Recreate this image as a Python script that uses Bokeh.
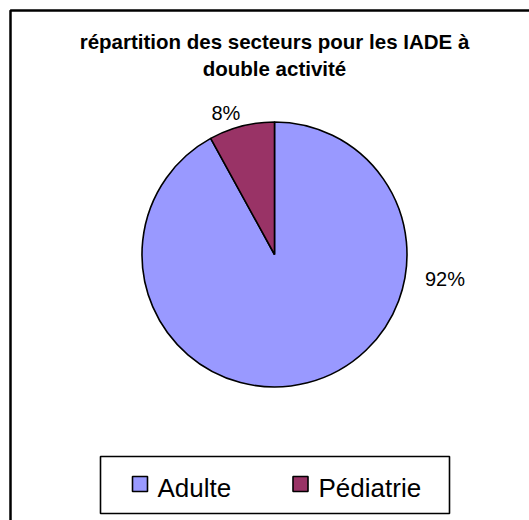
import math
from bokeh.plotting import figure
from bokeh.models import Range1d
from bokeh.core.properties import value
from bokeh.embed import file_html
from bokeh.resources import INLINE

# ---- data ----
title_lines = ["répartition des secteurs pour les IADE à", "double activité"]
categories = ["Adulte", "Pédiatrie"]
shares = [0.92, 0.08]
pct_labels = ["92%", "8%"]
colors = ["#9999FF", "#993366"]

FONT = "Liberation Sans"
W, H = 529, 520
# pie centre at picture (274, 254)
cx, cy = 274, 254
DY = 8  # baseline compensation

p = figure(width=W, height=H, output_backend="svg", toolbar_location=None,
           x_range=Range1d(-cx, W - cx), y_range=Range1d(-(H - cy), cy),
           min_border=0, outline_line_color=None)
p.axis.visible = False
p.grid.visible = False
p.background_fill_color = "white"
p.border_fill_color = "white"

R = 132.5

# wedges, clockwise from 12 o'clock
starts, ends = [], []
acc = 0.0
for s in shares:
    starts.append(math.pi / 2 - acc * 2 * math.pi)
    acc += s
    ends.append(math.pi / 2 - acc * 2 * math.pi)
p.wedge(x=[0, 0], y=[0, 0], radius=R, start_angle=starts, end_angle=ends,
        direction="clock", fill_color=colors, line_color="black", line_width=1.6)

# percentage labels
p.text(x=[150.5, -63], y=[-32 + DY, 134 + DY], text=pct_labels,
       text_font=value(FONT), text_font_size="20px", text_color="black",
       text_align="left", text_baseline="alphabetic")

# title
p.text(x=[0, 0], y=[205 + DY, 178 + DY], text=title_lines,
       text_font=value(FONT), text_font_size="20.5px", text_font_style="bold",
       text_color="black", text_align="center", text_baseline="alphabetic")

# chart frame (left and top edges visible, rest beyond window)
p.line(x=[-264, -264, W - cx + 5], y=[-(H - cy) - 5, 244, 244],
       line_color="black", line_width=2.5)

# legend box
p.quad(left=[-174], right=[175], top=[-202], bottom=[-259],
       fill_color="white", line_color="black", line_width=1.6)
p.rect(x=[-134.5, 26], y=[-229.5, -229.5], width=15, height=15,
       width_units="screen", height_units="screen",
       fill_color=colors, line_color="black", line_width=1.6)
p.text(x=[-117, 44], y=[-241 + DY, -241 + DY], text=categories,
       text_font=value(FONT), text_font_size="26px", text_color="black",
       text_align="left", text_baseline="alphabetic")

open("out.html", "w").write(file_html(p, INLINE))
